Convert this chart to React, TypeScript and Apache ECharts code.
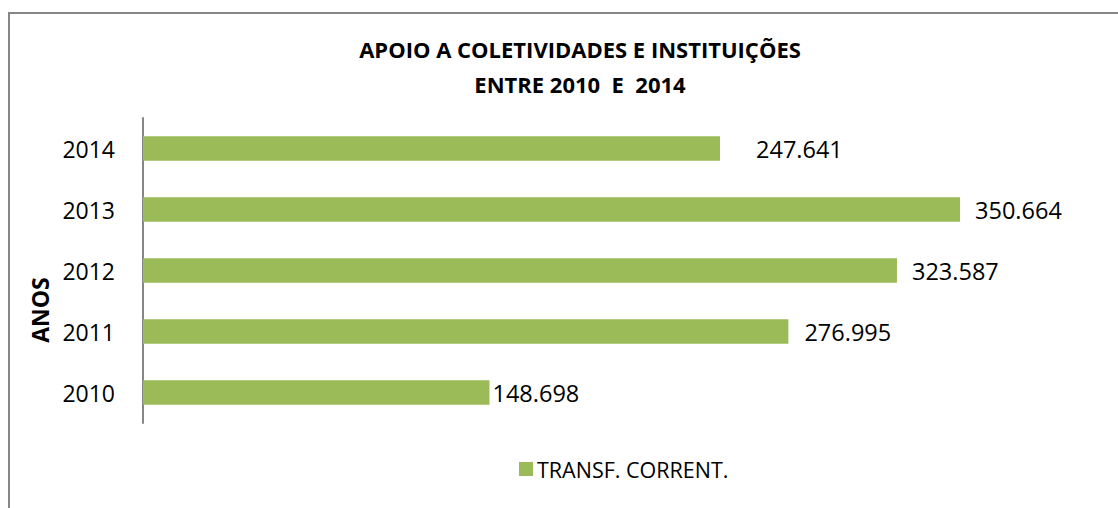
import React, { useEffect, useRef } from "react";
import * as echarts from "echarts";

const years = ["2010", "2011", "2012", "2013", "2014"];
const transfCorrent = [148.698, 276.995, 323.587, 350.664, 247.641];
const valueLabels = ["148.698", "276.995", "323.587", "350.664", "247.641"];
const labelGaps = [3, 16, 15, 15, 36];

const FONT = "'Open Sans', sans-serif";

export default function App() {
  const ref = useRef<HTMLDivElement>(null);
  useEffect(() => {
    if (!ref.current) return;
    const chart = echarts.init(ref.current, undefined, { renderer: "svg" });
    chart.setOption({
      animation: false,
      backgroundColor: "#ffffff",
      title: {
        text: "APOIO A COLETIVIDADES E INSTITUIÇÕES\nENTRE 2010  E  2014",
        left: 575,
        top: 26,
        textAlign: "center",
        textStyle: {
          fontFamily: FONT,
          fontSize: 22,
          fontWeight: "bold",
          color: "#000",
          lineHeight: 35,
        },
      },
      legend: {
        data: ["TRANSF. CORRENT."],
        left: 514,
        top: 453,
        itemWidth: 14,
        itemHeight: 14,
        itemGap: 6,
        icon: "rect",
        textStyle: { fontFamily: FONT, fontSize: 21.5, color: "#000", padding: [0, 0, 0, -1] },
      },
      grid: { left: 143, right: 43, top: 118, bottom: 508 - 423, containLabel: false },
      xAxis: {
        type: "value",
        min: 0,
        max: 400,
        show: false,
      },
      yAxis: {
        type: "category",
        data: years,
        axisLine: { show: true, lineStyle: { color: "#868686", width: 2 } },
        axisTick: { show: false },
        axisLabel: { fontFamily: FONT, fontSize: 23, color: "#000", margin: 28 },
        splitLine: { show: false },
      },
      graphic: [
        {
          type: "rect",
          shape: { x: 9, y: 13, width: 1200, height: 600 },
          style: { fill: "none", stroke: "#868686", lineWidth: 2 },
          silent: true,
        },
        {
          type: "text",
          x: 40,
          y: 310,
          rotation: Math.PI / 2,
          style: {
            text: "ANOS",
            fontFamily: FONT,
            fontSize: 23,
            fontWeight: "bold",
            fill: "#000",
            align: "center",
            verticalAlign: "middle",
          },
        },
      ],
      series: [
        {
          name: "TRANSF. CORRENT.",
          type: "bar",
          barWidth: "40%",
          itemStyle: { color: "#9BBB59" },
          data: transfCorrent.map((v, i) => ({
            value: v,
            label: {
              show: true,
              position: "right",
              distance: labelGaps[i],
              formatter: () => valueLabels[i],
              fontFamily: FONT,
              fontSize: 23.5,
              color: "#000",
            },
          })),
        },
      ],
    });
    return () => chart.dispose();
  }, []);
  return (
    <div
      ref={ref}
      style={{ position: "fixed", left: 0, top: 0, width: 1118, height: 508 }}
    />
  );
}
